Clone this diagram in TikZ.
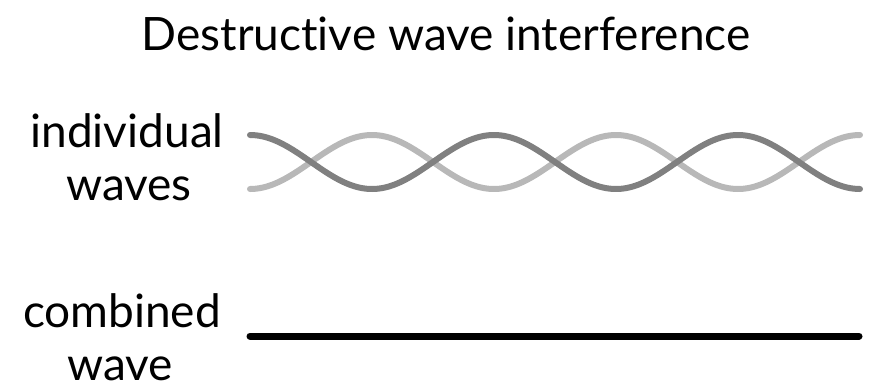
\documentclass[tikz,border=0pt]{standalone}
\usepackage{fontspec}
\setmainfont{Lato}[Ligatures={NoCommon,NoRare}]
\definecolor{wavedark}{HTML}{808080}
\definecolor{wavelight}{HTML}{B8B8B8}
\tikzset{
  lbl/.style={font=\fontsize{46}{53}\selectfont, align=center, inner sep=0pt, anchor=base},
  wavecurve/.style={line width=6pt, line cap=round},
  flat/.style={line width=7pt, line cap=round, black}
}
\begin{document}
\begin{tikzpicture}[x=1pt,y=-1pt]
\useasboundingbox (0,0) rectangle (873,389);
\node[lbl] (title) at (446,50) {Destructive wave interference};
\node[lbl] (ind) at (127,147) {individual};
\node[lbl] (waves) at (129,200) {waves};
\node[lbl] (comb) at (122,327) {combined};
\node[lbl] (wave) at (120,380) {wave};
\draw[wavecurve, wavelight] plot[domain=250:860, samples=200, smooth] (\x, {162+27*cos((\x-250)*1.4754)});
\draw[wavecurve, wavedark] plot[domain=250:860, samples=200, smooth] (\x, {162-27*cos((\x-250)*1.4754)});
\coordinate (cs) at (250,336);
\coordinate (ce) at (859,336);
\draw[flat] (cs) -- (ce);
\end{tikzpicture}
\end{document}
